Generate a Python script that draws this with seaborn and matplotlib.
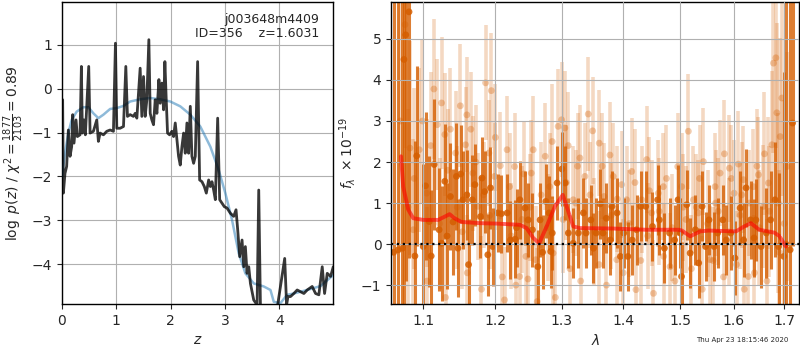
import matplotlib
matplotlib.use("Agg")
import matplotlib.pyplot as plt
import seaborn as sns
import pandas as pd
from matplotlib.ticker import FixedLocator, FixedFormatter, NullLocator

# ---------------- data: left panel (redshift PDF) ----------------
z_pz = [0.0, 0.012, 0.025, 0.055, 0.086, 0.117, 0.148, 0.178, 0.197, 0.221, 0.258, 0.283,
        0.332, 0.357, 0.375, 0.406, 0.430, 0.492, 0.517, 0.578, 0.640, 0.670, 0.701, 0.763,
        0.824, 0.886, 0.947, 0.984, 1.009, 1.070, 1.132, 1.175, 1.205, 1.255, 1.316, 1.347,
        1.378, 1.439, 1.470, 1.501, 1.531, 1.562, 1.599, 1.624, 1.654, 1.685, 1.716, 1.747,
        1.784, 1.808, 1.839, 1.870, 1.894, 1.919, 1.943, 1.980, 2.023, 2.054, 2.085, 2.116,
        2.146, 2.177, 2.208, 2.239, 2.269, 2.300, 2.331, 2.362, 2.392, 2.423, 2.454, 2.497,
        2.534, 2.577, 2.620, 2.657, 2.700, 2.731, 2.761, 2.792, 2.823, 2.866, 2.903, 2.946,
        2.989, 3.038, 3.100, 3.161, 3.204, 3.235, 3.272, 3.315, 3.346, 3.376, 3.407, 3.438,
        3.469, 3.530, 3.592, 3.622, 3.653, 3.715, 3.776, 3.961, 4.100, 4.135, 4.160, 4.207,
        4.268, 4.330, 4.391, 4.453, 4.514, 4.606, 4.668, 4.729, 4.791, 4.834, 4.883, 4.945,
        4.994]
logp = [-0.25, -0.25, -2.38, -1.93, -1.77, -0.94, -1.54, -1.32, -0.59, -1.24, -0.71, -1.09,
        -1.05, 0.51, -1.01, -0.71, -1.05, 0.51, -1.01, -0.97, -0.71, -1.20, -1.01, -1.05,
        -0.97, -0.94, -0.97, 1.04, -0.90, -0.90, -0.86, 0.51, -0.63, -0.59, -0.63, -0.56,
        -0.67, 0.47, -0.63, 0.28, -0.63, -0.25, 1.12, -0.56, -0.71, -0.82, -0.25, -0.56,
        0.21, -0.33, 0.13, -0.48, 0.62, -0.25, -1.01, -1.05, -0.97, -1.09, -0.78, -1.16,
        -1.54, -1.74, -1.32, -1.01, -1.47, -0.78, -1.47, -0.40, -1.54, -1.70, -1.54, 0.62,
        -2.08, -2.12, -2.23, -2.38, -2.08, -2.23, -2.12, -2.31, -2.53, -0.67, -2.53, -2.61,
        -2.69, -2.72, -2.84, -2.91, -2.76, -3.22, -3.83, -3.45, -4.06, -3.60, -4.21, -4.06,
        -4.44, -4.82, -4.93, -2.31, -4.93, -5.01, -5.05, -5.01, -3.87, -4.93, -4.74, -4.74,
        -4.67, -4.59, -4.63, -4.67, -4.59, -4.51, -4.67, -4.70, -4.06, -4.67, -4.21, -4.28,
        -4.06]

z_prior = [0.0, 0.055, 0.117, 0.178, 0.271, 0.394, 0.486, 0.578, 0.670, 0.763, 0.886, 1.009,
           1.132, 1.255, 1.439, 1.624, 1.808, 1.993, 2.177, 2.362, 2.546, 2.731, 2.884, 3.007,
           3.130, 3.253, 3.376, 3.530, 3.715, 3.838, 3.899, 4.022, 4.145, 4.268, 4.514, 4.760,
           4.994]
logp_prior = [-2.00, -1.47, -1.01, -0.71, -0.52, -0.42, -0.42, -0.56, -0.67, -0.59, -0.46, -0.44,
              -0.39, -0.29, -0.24, -0.21, -0.24, -0.29, -0.40, -0.59, -0.86, -1.32, -1.85, -2.38,
              -2.99, -3.75, -4.21, -4.44, -4.51, -4.59, -4.86, -4.89, -4.70, -4.67, -4.59, -4.50,
              -4.25]

z_ticks = [0, 1, 2, 3, 4]
logp_ticks = [-4, -3, -2, -1, 0, 1]

# ---------------- data: right panel (spectrum) ----------------
lam_bin = [1.0615, 1.0673, 1.0728, 1.0747, 1.0770, 1.0813, 1.0890, 1.0914, 1.1000, 1.1030,
           1.1080, 1.1106, 1.1146, 1.1213, 1.1245, 1.1290, 1.1321, 1.1367, 1.1403, 1.1449,
           1.1470, 1.1508, 1.1540, 1.1595, 1.1618, 1.1670, 1.1707, 1.1786, 1.1808, 1.1845,
           1.1891, 1.1929, 1.1961, 1.2031, 1.2087, 1.2172, 1.2220, 1.2291, 1.2310, 1.2360,
           1.2437, 1.2484, 1.2548, 1.2630, 1.2665, 1.2703, 1.2753, 1.2802, 1.2828, 1.2852,
           1.2927, 1.3002, 1.3053, 1.3104, 1.3181, 1.3262, 1.3343, 1.3387, 1.3464, 1.3507,
           1.3551, 1.3617, 1.3662, 1.3717, 1.3784, 1.3812, 1.3897, 1.3953, 1.4009, 1.4078,
           1.4153, 1.4227, 1.4297, 1.4385, 1.4503, 1.4593, 1.4623, 1.4713, 1.4804, 1.4896,
           1.4957, 1.5000, 1.5020, 1.5115, 1.5177, 1.5272, 1.5334, 1.5398, 1.5462, 1.5526,
           1.5623, 1.5688, 1.5786, 1.5853, 1.5939, 1.6019, 1.6120, 1.6188, 1.6236, 1.6324,
           1.6393, 1.6428, 1.6532, 1.6637, 1.6722, 1.6813, 1.6885, 1.6992, 1.7035, 1.7122,
           1.7172]
flux_bin = [-0.20, -0.14, -0.10, 4.50, 5.10, 5.66, -0.29, 2.15, -0.06, 1.42,
            0.55, -0.29, 1.94, 0.35, 0.02, 1.53, 0.20, 1.16, 0.54, 1.65,
            -0.10, 1.71, 1.08, 1.20, -0.50, 1.08, 1.45, 0.67, 1.61, 1.28,
            -0.26, 1.37, -0.06, 0.76, 0.74, 0.76, 0.10, 0.12, 0.40, 1.08,
            0.88, 0.59, 0.35, -0.55, 0.59, -0.20, 1.04, 0.76, -0.18, 0.27,
            1.49, 1.83, 1.49, 0.27, 0.02, 0.27, 0.76, 0.27, 0.59, -0.10,
            0.27, 0.98, 0.27, 0.63, 0.10, 0.92, 0.76, -0.30, 0.27, -0.30,
            0.10, 0.35, 0.92, 0.92, 0.43, 1.08, 0.59, -0.10, 0.27, 0.10,
            1.08, 0.27, -0.79, 0.96, -0.22, 0.35, -0.46, 0.92, -0.06, 0.59,
            -0.06, 0.27, 0.59, 0.10, 0.27, -0.34, 0.88, 0.10, 1.37, 0.59,
            0.15, 0.59, -0.06, 0.27, 0.59, 1.08, -0.06, -0.30, 0.00, -0.14,
            2.95]
err_bin = [8.0, 8.0, 8.0, 6.0, 6.0, 6.0, 2.8, 2.2, 2.0, 1.8,
           1.6, 1.6, 1.6, 1.5, 1.4, 1.4, 1.3, 1.3, 1.3, 1.3,
           1.2, 1.2, 1.2, 1.1, 1.1, 1.1, 1.0, 1.0, 1.0, 1.0,
           1.0, 1.0, 0.95, 0.95, 0.95, 0.95, 0.95, 0.95, 0.95, 0.95,
           0.9, 0.9, 0.9, 0.9, 0.9, 0.9, 0.9, 0.9, 0.9, 0.9,
           0.9, 0.9, 0.9, 0.85, 0.85, 0.85, 0.85, 0.85, 0.85, 0.85,
           0.85, 0.85, 0.85, 0.85, 0.85, 0.85, 0.85, 0.85, 0.85, 0.85,
           0.85, 0.85, 0.85, 0.85, 0.85, 0.85, 0.85, 0.85, 0.85, 0.85,
           0.85, 0.85, 0.85, 0.85, 0.85, 0.85, 0.85, 0.85, 0.85, 0.85,
           0.85, 0.85, 0.85, 0.85, 0.9, 0.9, 0.9, 0.9, 0.95, 0.95,
           0.95, 1.0, 1.0, 1.1, 1.2, 1.4, 1.8, 4.5, 8.0, 8.0,
           3.0]

lam_raw = [1.0761, 1.0800, 1.0825, 1.0868, 1.0947, 1.1045, 1.1050, 1.1142, 1.1187, 1.1220,
           1.1245, 1.1290, 1.1300, 1.1366, 1.1438, 1.1503, 1.1530, 1.1576, 1.1594, 1.1600,
           1.1678, 1.1749, 1.1800, 1.1859, 1.1906, 1.1920, 1.1941, 1.1988, 1.2071, 1.2100,
           1.2133, 1.2207, 1.2230, 1.2281, 1.2300, 1.2356, 1.2416, 1.2450, 1.2480, 1.2510,
           1.2531, 1.2597, 1.2620, 1.2743, 1.2780, 1.2812, 1.2865, 1.2900, 1.2943, 1.2997,
           1.3020, 1.3048, 1.3101, 1.3130, 1.3181, 1.3220, 1.3288, 1.3300, 1.3368, 1.3422,
           1.3493, 1.3520, 1.3600, 1.3601, 1.3679, 1.3720, 1.3778, 1.3800, 1.3833, 1.3890,
           1.3974, 1.4000, 1.4058, 1.4100, 1.4144, 1.4217, 1.4300, 1.4316, 1.4402, 1.4420,
           1.4489, 1.4520, 1.4605, 1.4620, 1.4694, 1.4700, 1.4813, 1.4850, 1.4900, 1.4951,
           1.5024, 1.5100, 1.5144, 1.5200, 1.5236, 1.5290, 1.5328, 1.5400, 1.5421, 1.5500,
           1.5546, 1.5600, 1.5640, 1.5700, 1.5735, 1.5800, 1.5817, 1.5900, 1.5913, 1.6003,
           1.6050, 1.6086, 1.6120, 1.6184, 1.6200, 1.6282, 1.6300, 1.6381, 1.6400, 1.6480,
           1.6500, 1.6580, 1.6650, 1.6680, 1.6700, 1.6749, 1.6781, 1.6830, 1.6850, 1.6900,
           1.6918, 1.6952, 1.7055,
           1.0700, 1.0880, 1.0990, 1.1100, 1.1330, 1.1460, 1.1650, 1.1720, 1.1830, 1.2000,
           1.2170, 1.2390, 1.2560, 1.2680, 1.2850, 1.3070, 1.3250, 1.3450, 1.3650, 1.3900,
           1.4200, 1.4450, 1.4750, 1.5050, 1.5350, 1.5650, 1.5950, 1.6150, 1.6450, 1.6600,
           1.6880, 1.7000]
flux_raw = [5.35, 0.90, 2.34, 0.35, 2.30, 1.24, -0.90, 3.78, 2.91, 0.50,
            3.44, 2.67, -1.30, 2.80, 2.22, 3.37, 0.30, 2.42, 3.15, -0.70,
            1.73, 0.92, -1.10, 3.93, 2.22, 0.70, 3.74, 1.65, 1.91, -0.80,
            -1.36, 1.40, 0.20, 1.89, -1.00, -0.79, 1.71, -0.30, -0.85, 0.90,
            1.73, -0.38, -1.40, 2.14, 0.40, 1.40, -0.22, -1.30, 2.87, 3.03,
            0.60, 2.83, 2.40, -0.60, 1.08, 1.00, 2.10, -0.90, 1.65, 3.17,
            2.76, 0.30, -0.50, 2.46, 1.16, -1.00, 2.17, 0.70, 1.65, -0.38,
            1.45, -0.70, 1.08, 0.50, 1.77, -1.11, -0.40, 1.08, 2.06, 0.20,
            0.76, -1.20, 1.24, 0.80, 1.40, -0.30, -0.55, 0.40, -0.90, 1.89,
            1.40, 0.60, 2.75, -0.60, 1.08, 0.90, 0.76, -1.10, 2.01, 0.50,
            -0.38, -0.40, 1.40, 0.80, 1.73, -0.80, 2.20, 0.30, 1.85, 1.24,
            -0.50, 1.95, 0.70, 1.57, -1.10, -0.79, 1.00, 1.40, -0.70, 1.69,
            0.40, 0.92, -0.90, 1.49, 0.80, 2.42, 4.41, 4.54, 3.20, -0.20,
            2.62, 3.56, 1.89,
            3.00, 1.60, 3.00, 2.40, 1.80, 0.90, 2.80, 2.00, 1.20, 2.60,
            2.30, 0.60, 2.30, 1.20, 2.50, 1.50, 1.90, 1.20, 1.90, 1.10,
            1.50, 1.30, 1.60, 0.90, 1.60, 1.00, 1.60, 1.20, 1.90, 2.20,
            1.00, 0.50]
err_raw = [3.0, 2.4, 2.6, 2.2, 2.0, 1.8, 1.8, 1.7, 1.6, 1.6,
           1.6, 1.5, 1.5, 1.5, 1.5, 1.5, 1.4, 1.4, 1.4, 1.4,
           1.4, 1.3, 1.3, 1.4, 1.3, 1.3, 1.4, 1.3, 1.3, 1.3,
           1.3, 1.3, 1.3, 1.3, 1.3, 1.3, 1.3, 1.3, 1.3, 1.3,
           1.3, 1.3, 1.3, 1.3, 1.3, 1.3, 1.3, 1.3, 1.4, 1.4,
           1.3, 1.4, 1.3, 1.3, 1.3, 1.3, 1.3, 1.3, 1.3, 1.4,
           1.3, 1.3, 1.3, 1.3, 1.3, 1.3, 1.3, 1.3, 1.3, 1.3,
           1.3, 1.3, 1.3, 1.3, 1.3, 1.3, 1.3, 1.3, 1.3, 1.3,
           1.3, 1.3, 1.3, 1.3, 1.3, 1.3, 1.3, 1.3, 1.3, 1.3,
           1.3, 1.3, 1.4, 1.3, 1.3, 1.3, 1.3, 1.3, 1.3, 1.3,
           1.3, 1.3, 1.3, 1.3, 1.3, 1.3, 1.3, 1.3, 1.3, 1.3,
           1.3, 1.3, 1.3, 1.3, 1.3, 1.3, 1.3, 1.4, 1.4, 1.4,
           1.4, 1.5, 1.5, 1.6, 1.6, 1.8, 2.2, 2.2, 2.2, 2.0,
           2.4, 2.4, 2.8,
           3.0, 2.2, 2.0, 1.8, 1.5, 1.5, 1.4, 1.4, 1.3, 1.3,
           1.3, 1.3, 1.3, 1.3, 1.4, 1.4, 1.3, 1.3, 1.3, 1.3,
           1.3, 1.3, 1.3, 1.3, 1.3, 1.3, 1.3, 1.3, 1.4, 1.5,
           2.2, 3.0]

lam_model = [1.0709, 1.0737, 1.0803, 1.0868, 1.1000, 1.1200, 1.1290, 1.1355, 1.1423, 1.1517,
             1.1777, 1.2017, 1.2360, 1.2460, 1.2560, 1.2651, 1.2765, 1.2893, 1.3016, 1.3077,
             1.3181, 1.3288, 1.3816, 1.4393, 1.4966, 1.5027, 1.5178, 1.5362, 1.5516, 1.6040,
             1.6199, 1.6330, 1.6495, 1.6797, 1.6898, 1.7036]
flux_model = [2.14, 1.40, 0.84, 0.63, 0.59, 0.59, 0.67, 0.73, 0.63, 0.54,
              0.51, 0.50, 0.47, 0.39, 0.15, 0.02, 0.43, 0.92, 1.20, 0.92,
              0.43, 0.39, 0.38, 0.35, 0.35, 0.33, 0.19, 0.31, 0.33, 0.31,
              0.43, 0.51, 0.35, 0.28, 0.20, -0.06]

lam_ticks = [1.1, 1.2, 1.3, 1.4, 1.5, 1.6, 1.7]
flux_ticks = [-1, 0, 1, 2, 3, 4, 5]

label_text = "j003648m4409\nID=356    z=1.6031"
timestamp = "Thu Apr 23 18:15:46 2020"

# ---------------- styling ----------------
sns.set_theme(style="ticks", rc={
    "axes.grid": True, "grid.color": "#b0b0b0", "grid.linewidth": 0.8,
    "axes.edgecolor": "black", "axes.linewidth": 1.0,
    "xtick.labelsize": 10, "ytick.labelsize": 10, "axes.labelsize": 10,
    "xtick.direction": "out", "ytick.direction": "out",
    "xtick.major.size": 3.5, "ytick.major.size": 3.5,
    "xtick.major.width": 0.8, "ytick.major.width": 0.8,
})
plt.rcParams["font.family"] = ["DejaVu Sans"]
plt.rcParams["mathtext.fontset"] = "dejavusans"

grism = (0.8352941176470589, 0.3686274509803922, 0.0)

fig = plt.figure(figsize=(8, 3.5), dpi=100)
ax1 = fig.add_axes([0.0775, 0.1314, 0.3388, 0.8629])
ax2 = fig.add_axes([0.489, 0.1314, 0.5100, 0.8629])

# ---- left panel ----
df_prior = pd.DataFrame({"z": z_prior, "logp": logp_prior})
df_pz = pd.DataFrame({"z": z_pz, "logp": logp})
sns.lineplot(data=df_prior, x="z", y="logp", ax=ax1, color="#1f77b4", alpha=0.5,
             lw=1.8, sort=False, estimator=None, zorder=3)
sns.lineplot(data=df_pz, x="z", y="logp", ax=ax1, color="black", alpha=0.78,
             lw=2.0, sort=False, estimator=None, zorder=4)
ax1.set_xlim(0, 4.99)
ax1.set_ylim(-4.91, 1.98)
ax1.set_xticks(z_ticks)
ax1.set_yticks(logp_ticks)
ax1.set_xlabel(r"$z$")
ax1.set_ylabel(r"$\log\ p(z)$ / $\chi^2=\frac{1877}{2103}=0.89$")
ax1.text(0.948, 0.963, label_text, transform=ax1.transAxes, ha="right", va="top",
         fontsize=9, linespacing=1.1)
ax1.yaxis.labelpad = 4

# ---- right panel ----
df_raw = pd.DataFrame({"lam": lam_raw, "flux": flux_raw})
df_bin = pd.DataFrame({"lam": lam_bin, "flux": flux_bin})
df_model = pd.DataFrame({"lam": lam_model, "flux": flux_model})

ax2.errorbar(lam_raw, flux_raw, yerr=err_raw, fmt="none", ecolor=grism, alpha=0.24,
             elinewidth=2.6, zorder=1)
sns.scatterplot(data=df_raw, x="lam", y="flux", ax=ax2, color=grism, alpha=0.32,
                s=24, edgecolor="none", zorder=1.2)
ax2.errorbar(lam_bin, flux_bin, yerr=err_bin, fmt="none", ecolor=grism, alpha=0.8,
             elinewidth=2.2, zorder=2)
sns.scatterplot(data=df_bin, x="lam", y="flux", ax=ax2, color=grism, alpha=0.85,
                s=24, edgecolor="none", zorder=2.2)
sns.lineplot(data=df_model, x="lam", y="flux", ax=ax2, color="red", alpha=0.6,
             lw=2.8, sort=False, estimator=None, zorder=3)
ax2.axhline(0, color="black", ls=":", lw=1.6, zorder=4)

ax2.set_xscale("log")
ax2.set_xlim(1.0583, 1.731)
ax2.set_ylim(-1.46, 5.9)
ax2.xaxis.set_major_locator(FixedLocator(lam_ticks))
ax2.xaxis.set_major_formatter(FixedFormatter([f"{v:.1f}" for v in lam_ticks]))
ax2.xaxis.set_minor_locator(NullLocator())
ax2.set_yticks(flux_ticks)
ax2.set_axisbelow(False)
ax2.grid(True, color="#b0b0b0", lw=0.8, zorder=5)
ax2.set_xlabel(r"$\lambda$")
ax2.set_ylabel(r"$f_\lambda\ \times 10^{-19}$")
ax2.yaxis.labelpad = 2

fig.text(0.985, 0.02, timestamp, ha="right", va="bottom", fontsize=5)

fig.savefig("out.png", dpi=100)
